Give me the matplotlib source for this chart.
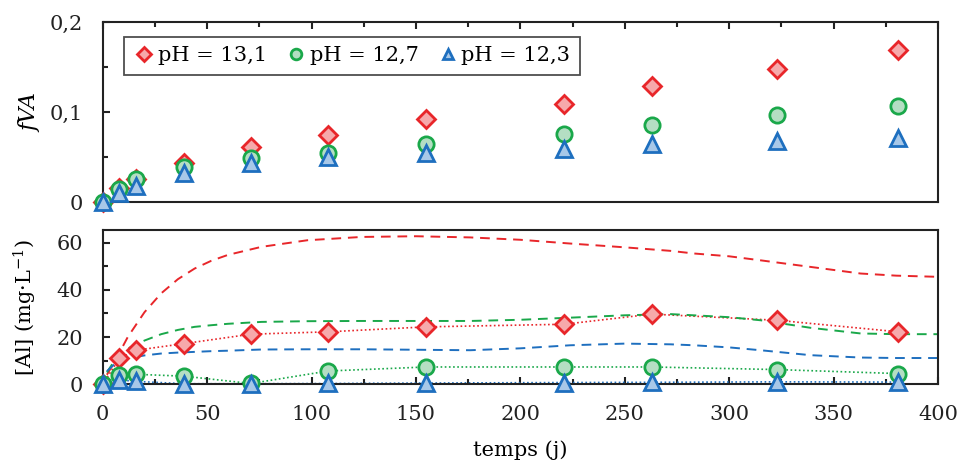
import numpy as np
import matplotlib
matplotlib.use("Agg")
import matplotlib.pyplot as plt
from matplotlib.ticker import MultipleLocator, FuncFormatter

# sampling days
days = [0, 8, 16, 39, 71, 108, 155, 221, 263, 323, 381]

# fVA (top panel)
fva_131 = [0, 0.016, 0.026, 0.043, 0.061, 0.074, 0.092, 0.109, 0.129, 0.148, 0.169]
fva_127 = [0, 0.015, 0.026, 0.039, 0.049, 0.055, 0.065, 0.076, 0.086, 0.097, 0.107]
fva_123 = [0, 0.010, 0.018, 0.032, 0.043, 0.050, 0.055, 0.059, 0.064, 0.068, 0.071]

# [Al] measured (bottom panel)
al_131 = [0, 10.9, 14.4, 17.2, 21.2, 22.2, 24.3, 25.4, 29.7, 27.1, 22.2]
al_127 = [0, 3.8, 4.2, 3.4, 0.3, 5.6, 7.3, 7.3, 7.3, 6.2, 4.5]
al_123 = [0, 1.8, 1.2, 0.2, 0.2, 0.3, 0.5, 0.7, 0.8, 1.0, 0.9]

# model curves (dashed)
model_days = [2, 6, 12, 20, 28, 36, 44, 52, 60, 76, 98, 124, 150, 176, 200, 224,
              250, 272, 283, 300, 315, 339, 363, 380, 400]
model_131 = [4, 10, 20, 30.5, 38.5, 44.5, 49, 52.3, 54.8, 58.2, 61, 62.4, 62.7,
             62.2, 61.2, 59.6, 58, 56.5, 55.4, 54.2, 52.5, 49.7, 46.9, 46, 45.5]
model_127 = [5, 10.5, 15.1, 18.5, 21.2, 23, 24.3, 25, 25.6, 26.4, 26.7, 26.8,
             26.8, 26.8, 27.3, 28.2, 29.2, 29.7, 29.2, 28.4, 27.1, 23.9, 21.5,
             21.2, 21.2]
model_123 = [5.5, 8.8, 10.9, 12.2, 13, 13.4, 13.7, 14, 14.2, 14.7, 14.8, 14.8,
             14.6, 14.4, 15.2, 16.5, 17.2, 16.9, 16.5, 15.6, 14.4, 12.3, 11.3,
             11.1, 11.1]

labels = ["pH = 13,1", "pH = 12,7", "pH = 12,3"]

red, green, blue = "#e8262a", "#1aa84a", "#1e6fbf"
red_f, green_f, blue_f = "#f6a9ab", "#b4dec3", "#a8c8e8"

plt.rcParams['font.family'] = 'DejaVu Serif'
plt.rcParams['mathtext.fontset'] = 'dejavuserif'
plt.rcParams['font.size'] = 15

fig = plt.figure(figsize=(9.6, 4.72), dpi=100)
ax1 = fig.add_axes([0.107, 0.572, 0.870, 0.381])
ax2 = fig.add_axes([0.107, 0.186, 0.870, 0.327])

styles = [
    (fva_131, al_131, model_131, "D", red, red_f, 9.5),
    (fva_127, al_127, model_127, "o", green, green_f, 11),
    (fva_123, al_123, model_123, "^", blue, blue_f, 11),
]

for (fva, al, model, mk, c, fc, ms), lab in zip(styles, labels):
    ax1.plot(days, fva, ls="none", marker=mk, ms=ms, mfc=fc, mec=c, mew=2,
             label=lab, clip_on=False, zorder=3)
    ax2.plot(model_days, model, ls=(0, (5, 3.5)), color=c, lw=1.4, zorder=2)
    ax2.plot(days, al, ls=(0, (1, 1.5)), color=c, lw=1.2, zorder=2)
    ax2.plot(days, al, ls="none", marker=mk, ms=ms, mfc=fc, mec=c, mew=2,
             clip_on=False, zorder=3)

for ax in (ax1, ax2):
    ax.set_xlim(0, 400)
    for s in ax.spines.values():
        s.set_linewidth(1.5)
        s.set_color("#222222")
    ax.tick_params(which="both", direction="in", width=1.5, colors="#222222",
                   labelcolor="#222222")
    ax.tick_params(which="major", length=5)
    ax.tick_params(which="minor", length=3.5)
    ax.tick_params(axis="y", pad=14)
    ax.xaxis.set_major_locator(MultipleLocator(50))
    ax.xaxis.set_minor_locator(MultipleLocator(25))

# top panel
ax1.set_ylim(0, 0.2)
ax1.yaxis.set_major_locator(MultipleLocator(0.1))
ax1.yaxis.set_minor_locator(MultipleLocator(0.05))
ax1.yaxis.set_major_formatter(FuncFormatter(
    lambda v, p: "0" if abs(v) < 1e-9 else ("%.1f" % v).replace(".", ",")))
ax1.xaxis.set_ticks_position("top")
ax1.tick_params(axis="x", labeltop=False, labelbottom=False)
ax1.set_ylabel("fVA", style="italic", labelpad=6, fontsize=16)
leg = ax1.legend(loc="upper left", ncol=3, frameon=True, fancybox=False,
                 edgecolor="#222222", fontsize=15, handletextpad=0.15,
                 columnspacing=0.9, borderpad=0.45, handlelength=1.0,
                 markerscale=0.7, borderaxespad=0,
                 bbox_to_anchor=(0.026, 0.917))
leg.get_frame().set_linewidth(1.3)

# bottom panel
ax2.set_ylim(0, 65.4)
ax2.yaxis.set_major_locator(MultipleLocator(20))
ax2.yaxis.set_minor_locator(MultipleLocator(10))
ax2.tick_params(axis="x", pad=15)
ax2.set_ylabel("[Al] (mg·L$^{-1}$)", labelpad=13)
ax2.set_xlabel("temps (j)", labelpad=12)

fig.savefig("out.png", dpi=100)
